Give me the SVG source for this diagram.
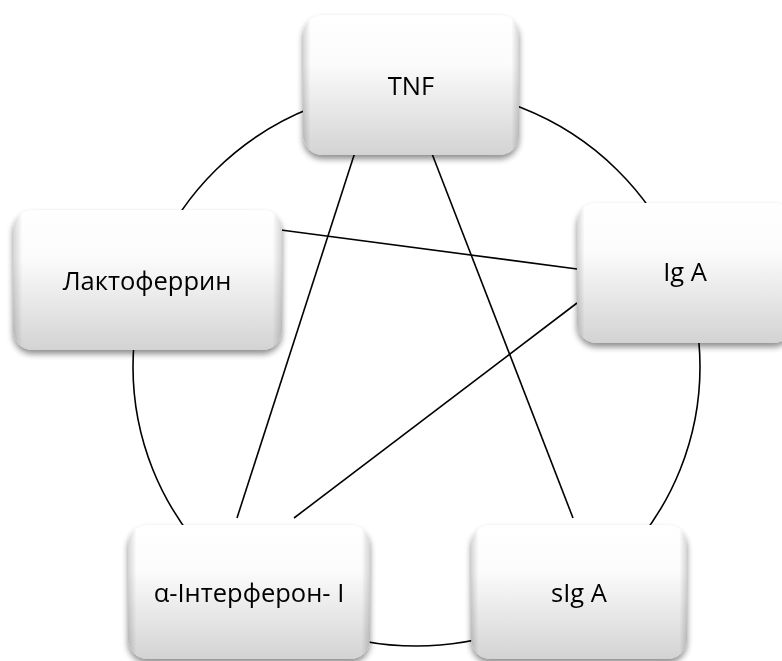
<svg xmlns="http://www.w3.org/2000/svg" width="782" height="661" viewBox="0 0 782 661">
  <defs>
    <linearGradient id="gv" x1="0" y1="0" x2="0" y2="1">
      <stop offset="0" stop-color="#ffffff"/>
      <stop offset="0.35" stop-color="#fbfbfb"/>
      <stop offset="1" stop-color="#d3d3d3"/>
    </linearGradient>
    <linearGradient id="gh" x1="0" y1="0" x2="1" y2="0">
      <stop offset="0" stop-color="#000" stop-opacity="0.16"/>
      <stop offset="0.035" stop-color="#000" stop-opacity="0"/>
      <stop offset="0.965" stop-color="#000" stop-opacity="0"/>
      <stop offset="1" stop-color="#000" stop-opacity="0.16"/>
    </linearGradient>
    <filter id="sh" x="-10%" y="-10%" width="120%" height="130%">
      <feGaussianBlur in="SourceAlpha" stdDeviation="3"/>
      <feOffset dx="0" dy="4" result="b"/>
      <feComponentTransfer><feFuncA type="linear" slope="0.45"/></feComponentTransfer>
      <feMerge><feMergeNode/><feMergeNode in="SourceGraphic"/></feMerge>
    </filter>
  </defs>
  <style>
    .conn { fill: none; stroke: #000; stroke-width: 1.6; }
    .box { fill: url(#gv); }
    .bev { fill: url(#gh); }
    .lbl { font-family: "Open Sans", "Liberation Sans", sans-serif; font-size: 25.5px; fill: #000; text-anchor: middle; }
  </style>
  <rect width="782" height="661" fill="#fff"/>
  <g id="connectors">
    <ellipse class="conn" cx="416.5" cy="367" rx="283.5" ry="279"/>
    <line class="conn" x1="357" y1="146" x2="237" y2="518"/>
    <line class="conn" x1="429" y1="146" x2="573" y2="518"/>
    <line class="conn" x1="281" y1="230" x2="577" y2="269"/>
    <line class="conn" x1="577" y1="303" x2="294" y2="518"/>
  </g>
  <g id="node-tnf" filter="url(#sh)">
    <rect class="box" x="303" y="15" width="216" height="140" rx="20"/>
    <rect class="bev" x="303" y="15" width="216" height="140" rx="20"/>
    <text class="lbl" x="411" y="95">TNF</text>
  </g>
  <g id="node-laktoferin" filter="url(#sh)">
    <rect class="box" x="13" y="210" width="269" height="140" rx="20"/>
    <rect class="bev" x="13" y="210" width="269" height="140" rx="20"/>
    <text class="lbl" x="147" y="290">Лактоферрин</text>
  </g>
  <g id="node-iga" filter="url(#sh)">
    <rect class="box" x="577" y="203" width="216" height="140" rx="20"/>
    <rect class="bev" x="577" y="203" width="216" height="140" rx="20"/>
    <text class="lbl" x="685" y="281">Ig A</text>
  </g>
  <g id="node-interferon" filter="url(#sh)">
    <rect class="box" x="128" y="525" width="242" height="134" rx="20"/>
    <rect class="bev" x="128" y="525" width="242" height="134" rx="20"/>
    <text class="lbl" x="249" y="602">α-Інтерферон- І</text>
  </g>
  <g id="node-siga" filter="url(#sh)">
    <rect class="box" x="471" y="525" width="216" height="134" rx="20"/>
    <rect class="bev" x="471" y="525" width="216" height="134" rx="20"/>
    <text class="lbl" x="579" y="602">sIg A</text>
  </g>
</svg>
